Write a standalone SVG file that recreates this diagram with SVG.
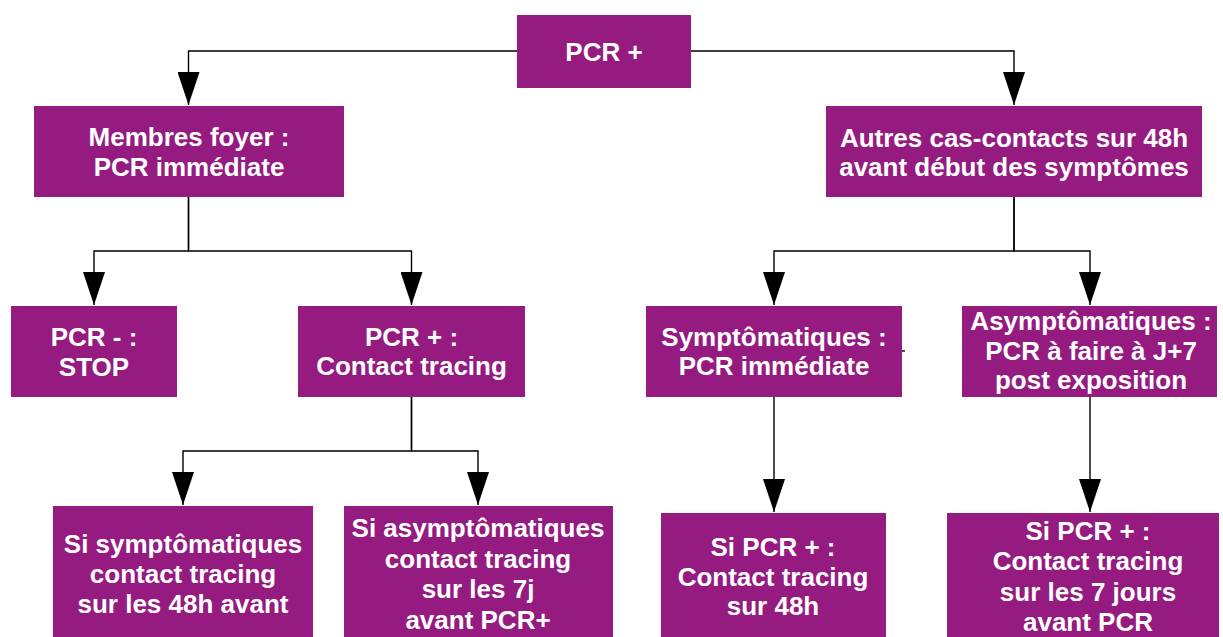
<svg xmlns="http://www.w3.org/2000/svg" width="1223" height="637" viewBox="0 0 1223 637">
<style>
.box{fill:#951b80;}
.t{font-family:"Liberation Sans",Arial,sans-serif;font-weight:bold;font-size:26px;fill:#ffffff;text-anchor:middle;}
.c{fill:none;stroke:#000;stroke-width:1.4;}
</style>
<defs>
<marker id="ah" viewBox="0 -11 33 22" refX="33" refY="0" markerWidth="33" markerHeight="22" markerUnits="userSpaceOnUse" orient="auto">
<path d="M0,-11 L33,0 L0,11 z" fill="#000"/>
</marker>
</defs>
<rect width="1223" height="637" fill="#fff"/>
<g id="connectors">
<path class="c" d="M517,51 H188.5 V105" marker-end="url(#ah)"/>
<path class="c" d="M691,51 H1014 V105" marker-end="url(#ah)"/>
<path class="c" d="M188.5,197 V251 H94 V305" marker-end="url(#ah)"/>
<path class="c" d="M188.5,197 V251 H411.5 V305" marker-end="url(#ah)"/>
<path class="c" d="M1014,197 V251 H774 V305" marker-end="url(#ah)"/>
<path class="c" d="M1014,197 V251 H1090 V305" marker-end="url(#ah)"/>
<path class="c" d="M411.5,397 V451 H183 V505" marker-end="url(#ah)"/>
<path class="c" d="M411.5,397 V451 H478 V505" marker-end="url(#ah)"/>
<path class="c" d="M774,397 V512" marker-end="url(#ah)"/>
<path class="c" d="M1090,397 V512" marker-end="url(#ah)"/>
<path class="c" d="M901,351 H905" stroke-width="1"/>
</g>
<g id="n-pcr">
<rect class="box" x="517" y="15" width="174" height="73"/>
<text class="t" x="604" y="61">PCR +</text>
</g>
<g id="n-membres">
<rect class="box" x="34" y="106" width="310" height="91"/>
<text class="t" x="189" y="146">Membres foyer :</text>
<text class="t" x="189" y="176">PCR immédiate</text>
</g>
<g id="n-autres">
<rect class="box" x="826" y="106" width="376" height="91"/>
<text class="t" x="1014" y="147">Autres cas-contacts sur 48h</text>
<text class="t" x="1014" y="176">avant début des symptômes</text>
</g>
<g id="n-pcrneg">
<rect class="box" x="11" y="306" width="166" height="91"/>
<text class="t" x="94" y="346">PCR - :</text>
<text class="t" x="94" y="376">STOP</text>
</g>
<g id="n-pcrpos">
<rect class="box" x="298" y="306" width="227" height="91"/>
<text class="t" x="411.5" y="346">PCR + :</text>
<text class="t" x="411.5" y="375">Contact tracing</text>
</g>
<g id="n-sympto">
<rect class="box" x="646" y="306" width="256" height="91"/>
<text class="t" x="774" y="346">Symptômatiques :</text>
<text class="t" x="774" y="375">PCR immédiate</text>
</g>
<g id="n-asympto">
<rect class="box" x="962" y="306" width="255" height="91"/>
<text class="t" x="1091" y="330">Asymptômatiques :</text>
<text class="t" x="1091" y="360">PCR à faire à J+7</text>
<text class="t" x="1091" y="389">post exposition</text>
</g>
<g id="n-si-sympto">
<rect class="box" x="53" y="506" width="260" height="131"/>
<text class="t" x="183" y="553">Si symptômatiques</text>
<text class="t" x="183" y="583">contact tracing</text>
<text class="t" x="183" y="613">sur les 48h avant</text>
</g>
<g id="n-si-asympto">
<rect class="box" x="344" y="506" width="269" height="131"/>
<text class="t" x="478" y="537">Si asymptômatiques</text>
<text class="t" x="478" y="568">contact tracing</text>
<text class="t" x="478" y="598">sur les 7j</text>
<text class="t" x="478" y="629">avant PCR+</text>
</g>
<g id="n-si-pcr-48">
<rect class="box" x="661" y="513" width="225" height="124"/>
<text class="t" x="773" y="556">Si PCR + :</text>
<text class="t" x="773" y="586">Contact tracing</text>
<text class="t" x="773" y="615">sur 48h</text>
</g>
<g id="n-si-pcr-7">
<rect class="box" x="947" y="513" width="272" height="124"/>
<text class="t" x="1088" y="540">Si PCR + :</text>
<text class="t" x="1088" y="570">Contact tracing</text>
<text class="t" x="1088" y="601">sur les 7 jours</text>
<text class="t" x="1088" y="631">avant PCR</text>
</g>
</svg>
